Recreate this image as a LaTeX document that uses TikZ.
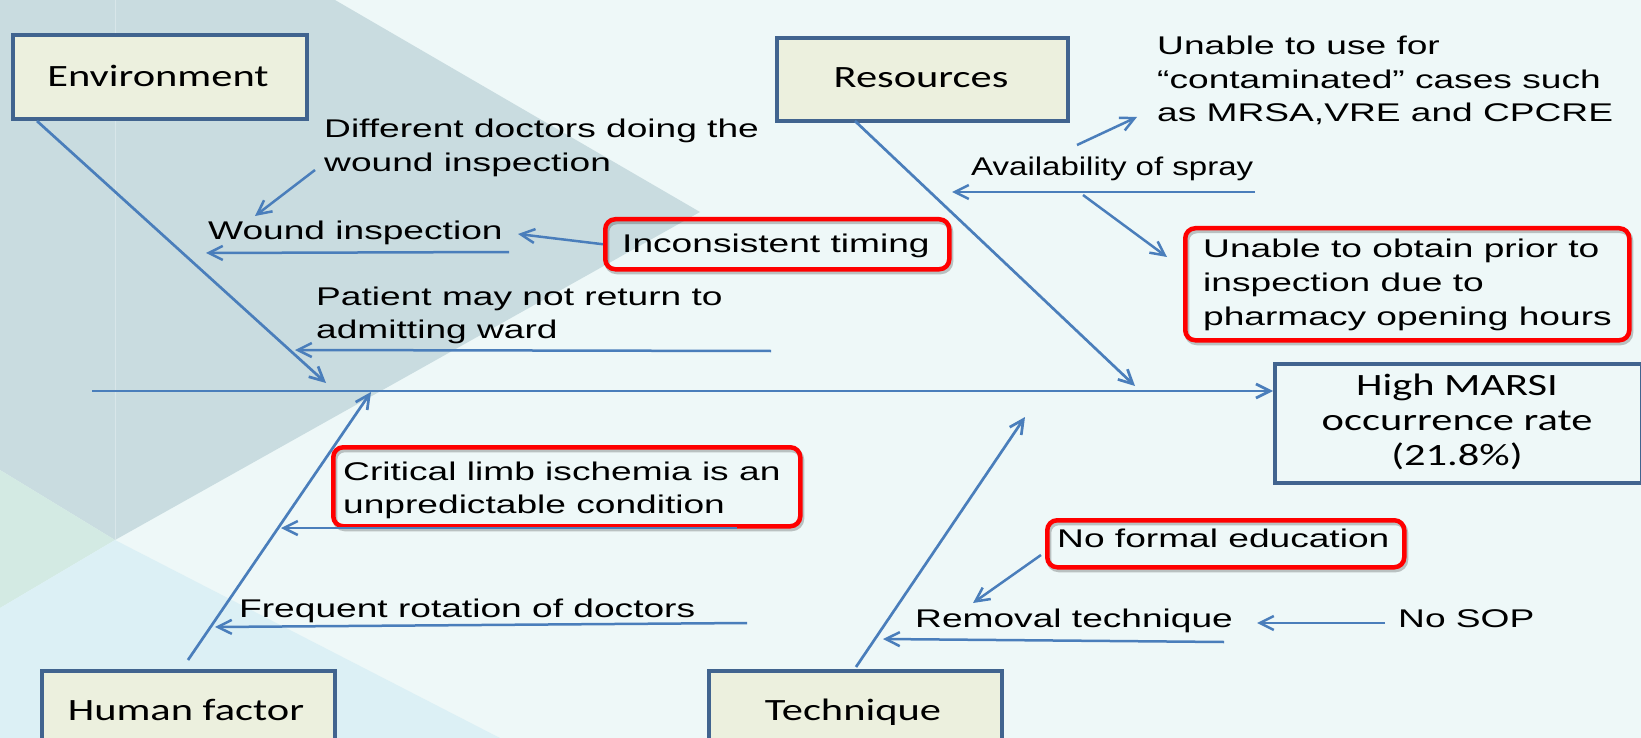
\documentclass[tikz,border=0pt]{standalone}
\usepackage{fontspec}
\setmainfont{Liberation Sans}[FakeStretch=1.45]
\newfontfamily\labfont{Carlito}[FakeStretch=1.37]
\newfontfamily\avfont{Liberation Sans}[FakeStretch=1.29]
\usetikzlibrary{arrows.meta}
\definecolor{bg}{HTML}{EEF8F8}
\definecolor{greyreg}{HTML}{C9DCE0}
\definecolor{greyline}{HTML}{D8E6E9}
\definecolor{mintreg}{HTML}{D3EAE3}
\definecolor{bluereg}{HTML}{DCF0F5}
\definecolor{boxfill}{HTML}{ECF0DE}
\definecolor{boxline}{HTML}{41648F}
\definecolor{arrowblue}{HTML}{4A7EBB}
\definecolor{redline}{HTML}{FF0000}
\begin{document}
\begin{tikzpicture}[x=1pt,y=-1pt,
  catbox/.style={draw=boxline, line width=4pt, fill=boxfill, inner sep=0pt, anchor=north west},
  marsiframe/.style={draw=boxline, line width=4pt, inner sep=0pt, anchor=north west},
  redbox/.style={draw=redline, line width=4.5pt, rounded corners=10pt, inner sep=0pt, anchor=north west,
    preaction={draw=black, draw opacity=0.22, line width=5pt, transform canvas={xshift=1.5pt,yshift=-2.5pt}}},
  txt/.style={inner sep=0pt, anchor=base west, font=\fontsize{25.6}{33.5}\selectfont, text=black},
  avtxt/.style={inner sep=0pt, anchor=base west, font=\avfont\fontsize{25.6}{33.5}\selectfont, text=black},
  labtxt/.style={inner sep=0pt, anchor=base, font=\labfont\fontsize{31}{35}\selectfont, text=black},
  conn/.style={draw=arrowblue, line width=2.5pt, -{Straight Barb[length=14pt,width=14pt,line width=2.5pt]}},
  bone/.style={draw=arrowblue, line width=2.7pt, -{Straight Barb[length=14pt,width=14pt,line width=2.7pt]}}
]
\useasboundingbox (0,0) rectangle (1641,738);
\clip (0,0) rectangle (1641,738);
% background
\fill[bg] (0,0) rectangle (1641,738);
\fill[greyreg] (0,0) -- (335,0) -- (700,212) -- (115,540) -- (0,470) -- cycle;
\fill[mintreg] (0,470) -- (115,540) -- (0,608) -- cycle;
\fill[bluereg] (0,608) -- (115,540) -- (500,738) -- (0,738) -- cycle;
\draw[greyline, line width=1pt] (115,0) -- (115,540);

% category boxes
\node[catbox, minimum width=294pt, minimum height=84pt] (envbox) at (11,33) {};
\node[catbox, minimum width=291pt, minimum height=83pt] (resbox) at (775,36) {};
\node[catbox, minimum width=293pt, minimum height=100pt] (humbox) at (40,669) {};
\node[catbox, minimum width=293pt, minimum height=100pt] (tecbox) at (707,669) {};
\node[marsiframe, minimum width=367pt, minimum height=119pt] (marsibox) at (1273,362) {};

\node[labtxt] (env) at (158,87) {Environment};
\node[labtxt] (res) at (921,88) {Resources};
\node[labtxt] (hum) at (186,720) {Human factor};
\node[labtxt] (tec) at (853,720) {Technique};
\node[labtxt] (marsi) at (1457,395) {\begin{tabular}[t]{@{}c@{}}High MARSI\\ occurrence rate\\ (21.8\%)\end{tabular}};

% red boxes
\node[redbox, minimum width=344pt, minimum height=50pt] (incbox) at (603,217) {};
\node[redbox, minimum width=467pt, minimum height=79pt] (critbox) at (331,445) {};
\node[redbox, minimum width=444pt, minimum height=112pt] (obtbox) at (1183,226) {};
\node[redbox, minimum width=357pt, minimum height=47pt] (formbox) at (1045,518) {};

% texts
\node[txt] (diff) at (324,138) {\begin{tabular}[t]{@{}l@{}}Different doctors doing the\\ wound inspection\end{tabular}};
\node[txt] (wound) at (208,240) {Wound inspection};
\node[txt] (inc) at (622,252) {Inconsistent timing};
\node[txt] (pat) at (316,305) {\begin{tabular}[t]{@{}l@{}}Patient may not return to\\ admitting ward\end{tabular}};
\node[txt] (crit) at (343,480) {\begin{tabular}[t]{@{}l@{}}Critical limb ischemia is an\\ unpredictable condition\end{tabular}};
\node[txt] (freq) at (239,617) {Frequent rotation of doctors};
\node[avtxt] (avail) at (971,176) {Availability of spray};
\node[txt] (cont) at (1157,55) {\begin{tabular}[t]{@{}l@{}}Unable to use for\\ “contaminated” cases such\\ as MRSA,VRE and CPCRE\end{tabular}};
\node[txt] (obt) at (1203,258) {\begin{tabular}[t]{@{}l@{}}Unable to obtain prior to\\ inspection due to\\ pharmacy opening hours\end{tabular}};
\node[txt] (form) at (1057,547) {No formal education};
\node[txt] (rem) at (915,627) {Removal technique};
\node[txt] (sop) at (1398,627) {No SOP};

% coordinates
\coordinate (spS) at (92,391);
\coordinate (envS) at (37,121);   \coordinate (envT) at (326,383);
\coordinate (resS) at (855,121);  \coordinate (resT) at (1135,386);
\coordinate (humS) at (188,660);  \coordinate (humT) at (371,392);
\coordinate (tecS) at (856,667);  \coordinate (tecT) at (1025,417);
\coordinate (woundS) at (509,252); \coordinate (woundT) at (206,253);
\coordinate (diffS) at (315,170);  \coordinate (diffT) at (255,216);
\coordinate (incT) at (518,234);
\coordinate (patS) at (771,351);   \coordinate (patT) at (295,350);
\coordinate (critS) at (737,528);  \coordinate (critT) at (281,528);
\coordinate (freqS) at (747,623);  \coordinate (freqT) at (215,627);
\coordinate (avS) at (1255,192);   \coordinate (avT) at (952,192);
\coordinate (upS) at (1077,145);   \coordinate (upT) at (1137,117);
\coordinate (dnS) at (1083,195);   \coordinate (dnT) at (1167,257);
\coordinate (formS) at (1041,555); \coordinate (formT) at (973,603);
\coordinate (remS) at (1224,642);  \coordinate (remT) at (883,639);
\coordinate (sopS) at (1385,623);  \coordinate (sopT) at (1257,623);

% spine and bones
\draw[bone] (spS) -- (spS -| marsibox.west);
\draw[bone] (envS) -- (envT);
\draw[bone] (resS) -- (resT);
\draw[bone] (humS) -- (humT);
\draw[bone] (tecS) -- (tecT);

% sub-branches
\draw[conn] (woundS) -- (woundT);
\draw[conn] (diffS) -- (diffT);
\draw[conn] (incbox.west) -- (incT);
\draw[conn] (patS) -- (patT);
\draw[conn] (critS) -- (critT);
\draw[conn] (freqS) -- (freqT);
\draw[conn] (avS) -- (avT);
\draw[conn] (upS) -- (upT);
\draw[conn] (dnS) -- (dnT);
\draw[conn] (formS) -- (formT);
\draw[conn] (remS) -- (remT);
\draw[conn] (sopS) -- (sopT);
\end{tikzpicture}
\end{document}
